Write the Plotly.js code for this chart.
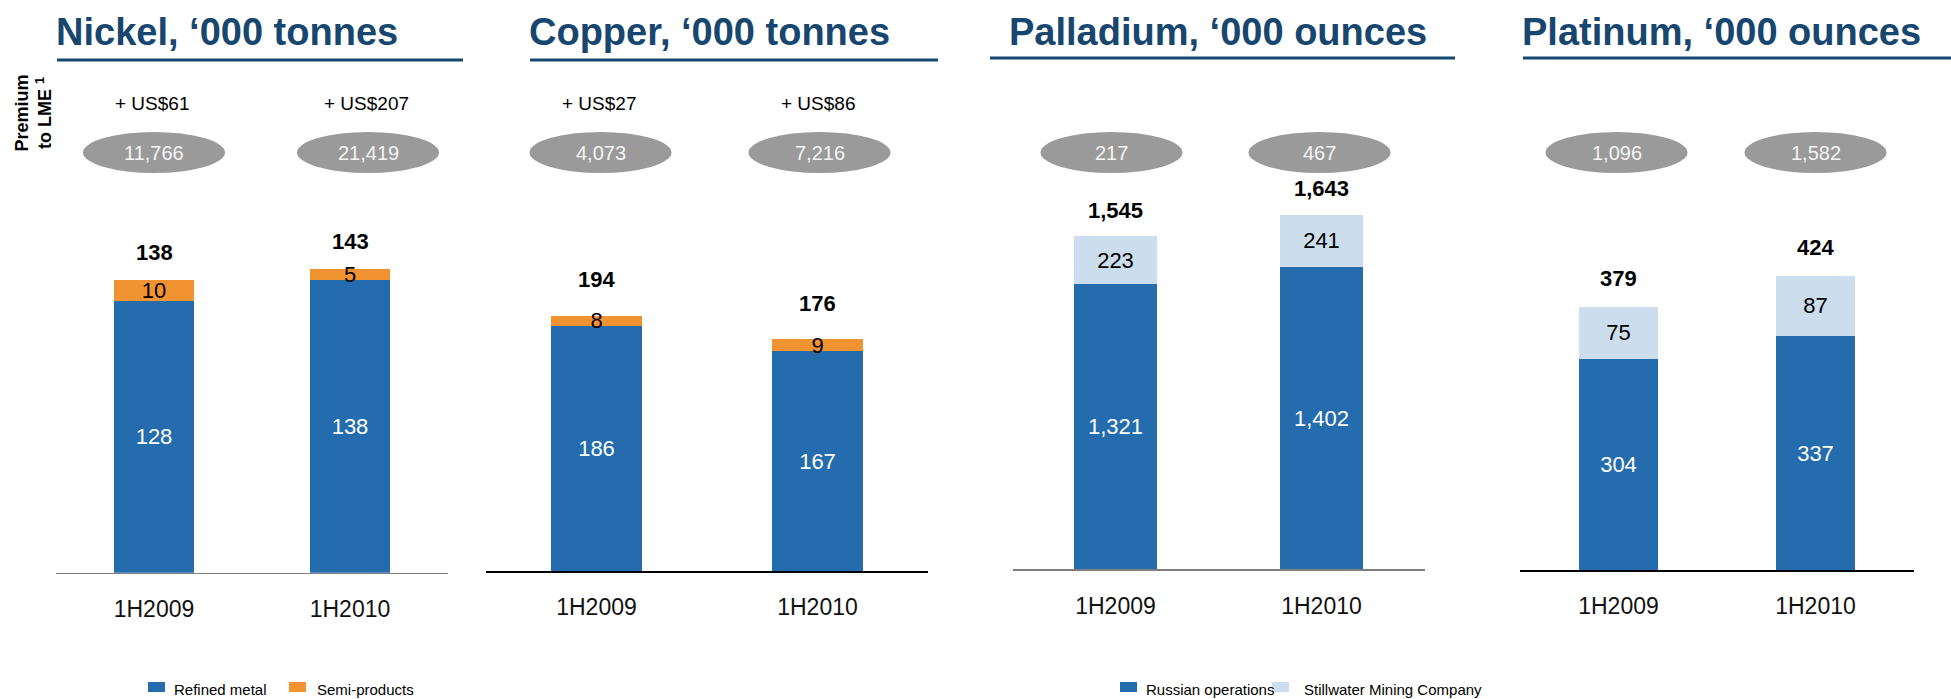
<!DOCTYPE html>
<html>
<head>
<meta charset="utf-8">
<script src="https://cdn.plot.ly/plotly-3.0.1.min.js"></script>
<style>
html,body{margin:0;padding:0;background:#fff;}
#chart{width:1951px;height:699px;}
</style>
</head>
<body>
<div id="chart"></div>
<script>
// ---------- DATA ----------
const categories = ['1H2009', '1H2010'];

const nickelRefined = [128, 138];
const nickelSemi = [10, 5];
const nickelTotal = [138, 143];
const nickelPrice = ['11,766', '21,419'];
const nickelPremium = ['+ US$61', '+ US$207'];

const copperRefined = [186, 167];
const copperSemi = [8, 9];
const copperTotal = [194, 176];
const copperPrice = ['4,073', '7,216'];
const copperPremium = ['+ US$27', '+ US$86'];

const palladiumRussian = [1321, 1402];
const palladiumStillwater = [223, 241];
const palladiumTotal = [1545, 1643];
const palladiumPrice = ['217', '467'];

const platinumRussian = [304, 337];
const platinumStillwater = [75, 87];
const platinumTotal = [379, 424];
const platinumPrice = ['1,096', '1,582'];

const panelTitles = ['Nickel, \u2018000 tonnes', 'Copper, \u2018000 tonnes', 'Palladium, \u2018000 ounces', 'Platinum, \u2018000 ounces'];
const seriesNames = ['Refined metal', 'Semi-products', 'Russian operations', 'Stillwater Mining Company'];
const sideLabel = '<b>Premium</b><br><b>to LME <sup>1</sup></b>';

// ---------- STYLE / LAYOUT ----------
const W = 1951, H = 699;
const FONT = 'Liberation Sans, Arial, Helvetica, sans-serif';
const BLUE = '#246cae', ORANGE = '#f09330', LIGHT = '#ccdded', GREY = '#9a9a9a', TITLE = '#17466f';
const px = v => v / W;
const py = v => 1 - v / H;
const TOP = 150;

const panels = [
  {bottom: nickelRefined, top: nickelSemi, total: nickelTotal, price: nickelPrice, premium: nickelPremium,
   colors: [BLUE, ORANGE], names: [seriesNames[0], seriesNames[1]],
   xPx: [56, 448], base: 572.7, scale: 2.121, barW: 0.41, line: '#7f7f7f', shift: [0, 18], totShift: 28,
   title: panelTitles[0], titleX: 57, ul: [57, 463, 60]},
  {bottom: copperRefined, top: copperSemi, total: copperTotal, price: copperPrice, premium: copperPremium,
   colors: [BLUE, ORANGE], names: [seriesNames[0], seriesNames[1]],
   xPx: [486, 928], base: 571, scale: 1.316, barW: 0.41, line: '#000000', shift: [4, 2], totShift: 36,
   title: panelTitles[1], titleX: 530, ul: [530, 938, 60]},
  {bottom: palladiumRussian, top: palladiumStillwater, total: palladiumTotal, price: palladiumPrice, premium: null,
   colors: [BLUE, LIGHT], names: [seriesNames[2], seriesNames[3]],
   xPx: [1012.5, 1424.5], base: 569.3, scale: 0.2157, barW: 0.40, line: '#7f7f7f', shift: [-4, -2], totShift: 26,
   title: panelTitles[2], titleX: 1010, ul: [990, 1455, 58]},
  {bottom: platinumRussian, top: platinumStillwater, total: platinumTotal, price: platinumPrice, premium: null,
   colors: [BLUE, LIGHT], names: [seriesNames[2], seriesNames[3]],
   xPx: [1520, 1914], base: 570, scale: 0.694, barW: 0.40, line: '#000000', shift: [-2, 0], totShift: 28,
   title: panelTitles[3], titleX: 1523, ul: [1523, 1951, 58]}
];

const data = [];
const annotations = [];
const shapes = [];
const layout = {
  width: W, height: H,
  margin: {l: 0, r: 0, t: 0, b: 0},
  paper_bgcolor: '#ffffff', plot_bgcolor: 'rgba(0,0,0,0)',
  barmode: 'stack', showlegend: false,
  font: {family: FONT, color: '#000'},
  annotations: annotations, shapes: shapes
};

panels.forEach((p, k) => {
  const n = k === 0 ? '' : String(k + 1);
  const xa = 'x' + n, ya = 'y' + n;
  const yMax = (p.base - TOP) / p.scale;
  layout['xaxis' + n] = {
    domain: [px(p.xPx[0]), px(p.xPx[1])], anchor: ya,
    type: 'category', range: [-0.5, 1.5],
    showline: true, linecolor: p.line, linewidth: 1.6,
    showgrid: false, zeroline: false,
    ticks: 'outside', ticklen: 15, tickcolor: 'rgba(0,0,0,0)',
    tickfont: {size: 23, family: FONT, color: '#111'}, fixedrange: true
  };
  layout['yaxis' + n] = {
    domain: [py(p.base), py(TOP)], anchor: xa,
    range: [0, yMax], visible: false, fixedrange: true
  };
  [p.bottom, p.top].forEach((vals, s) => {
    data.push({
      type: 'bar', x: categories, y: vals, xaxis: xa, yaxis: ya,
      name: p.names[s], width: p.barW,
      marker: {color: p.colors[s], line: {width: 0}},
      texttemplate: '%{y:,}', textposition: 'inside', insidetextanchor: 'middle',
      textangle: 0, constraintext: 'none',
      textfont: {size: 22, family: FONT, color: s === 0 ? '#ffffff' : '#000000'},
      hoverinfo: 'skip', cliponaxis: false
    });
  });
  categories.forEach((c, i) => {
    annotations.push({
      xref: xa, yref: ya, x: c, y: p.total[i], yshift: p.totShift, showarrow: false,
      text: '<b>' + p.total[i].toLocaleString('en-US') + '</b>',
      font: {size: 22, family: FONT, color: '#000'}, yanchor: 'middle'
    });
    const unit = (p.xPx[1] - p.xPx[0]) / 2;
    const cx = p.xPx[0] + (i + 0.5) * unit + p.shift[i];
    shapes.push({
      type: 'circle', xref: 'paper', yref: 'paper',
      x0: px(cx - 71), x1: px(cx + 71), y0: py(173), y1: py(132),
      fillcolor: GREY, line: {width: 0}, layer: 'below'
    });
    annotations.push({
      xref: 'paper', yref: 'paper', x: px(cx), y: py(153), showarrow: false,
      text: p.price[i], font: {size: 20, family: FONT, color: '#f4f4f4'},
      xanchor: 'center', yanchor: 'middle'
    });
    if (p.premium) {
      annotations.push({
        xref: 'paper', yref: 'paper', x: px(cx - 2), y: py(104), showarrow: false,
        text: p.premium[i], font: {size: 19, family: FONT, color: '#000'},
        xanchor: 'center', yanchor: 'middle'
      });
    }
  });
  annotations.push({
    xref: 'paper', yref: 'paper', x: px(p.titleX - 3), y: py(32), showarrow: false,
    text: '<b>' + p.title + '</b>', font: {size: 38, family: FONT, color: TITLE},
    xanchor: 'left', yanchor: 'middle'
  });
  shapes.push({
    type: 'line', xref: 'paper', yref: 'paper',
    x0: px(p.ul[0]), x1: px(p.ul[1]), y0: py(p.ul[2]), y1: py(p.ul[2]),
    line: {color: TITLE, width: 3.2}
  });
});

// vertical "Premium / to LME 1" side label: title of a small helper axis
layout.xaxis5 = {domain: [px(58), px(60)], anchor: 'y5', visible: false, fixedrange: true};
layout.yaxis5 = {
  domain: [py(158), py(68)], anchor: 'x5', range: [0, 1], fixedrange: true,
  showline: false, showticklabels: false, ticks: '', showgrid: false, zeroline: false,
  title: {text: sideLabel, font: {size: 18, family: FONT, color: '#000'}, standoff: 0}
};
data.push({type: 'scatter', x: [], y: [], xaxis: 'x5', yaxis: 'y5', hoverinfo: 'skip', showlegend: false});

// legends
const legendItems = [
  {name: seriesNames[0], color: BLUE, sq: 148, tx: 172},
  {name: seriesNames[1], color: ORANGE, sq: 289, tx: 315},
  {name: seriesNames[2], color: BLUE, sq: 1120, tx: 1144},
  {name: seriesNames[3], color: LIGHT, sq: 1272, tx: 1302}
];
legendItems.forEach(it => {
  shapes.push({
    type: 'rect', xref: 'paper', yref: 'paper',
    x0: px(it.sq), x1: px(it.sq + 17), y0: py(692), y1: py(682),
    fillcolor: it.color, line: {width: 0}
  });
  annotations.push({
    xref: 'paper', yref: 'paper', x: px(it.tx), y: py(689), showarrow: false,
    text: it.name, font: {size: 15, family: FONT, color: '#000'},
    xanchor: 'left', yanchor: 'middle'
  });
});

Plotly.newPlot('chart', data, layout, {staticPlot: true, displayModeBar: false});
</script>
</body>
</html>
